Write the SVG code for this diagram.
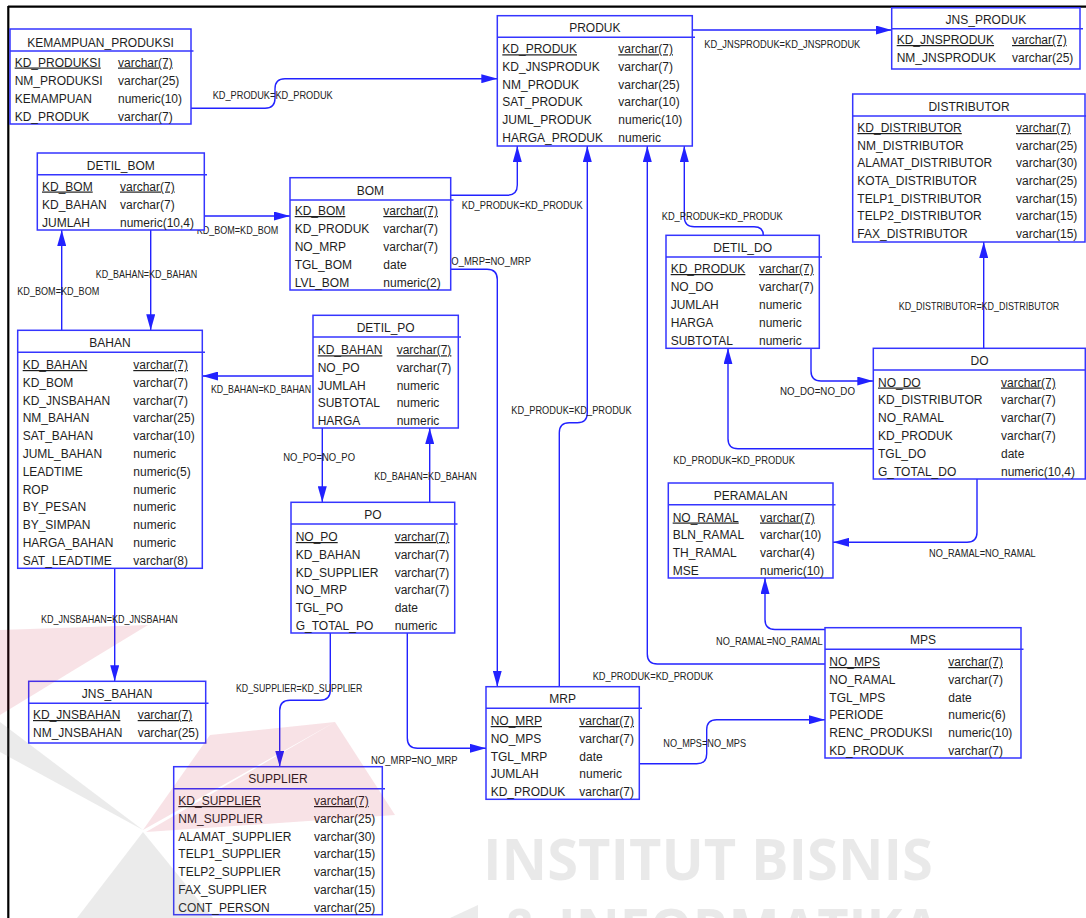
<svg xmlns="http://www.w3.org/2000/svg" width="1086" height="918" viewBox="0 0 1086 918">
  <defs>
    <style>
      .box { fill: #ffffff; stroke: #3535ff; stroke-width: 1.5; }
      .sep { stroke: #3535ff; stroke-width: 1.5; }
      .f { font-family: "Liberation Sans", Arial, sans-serif; font-size: 12px; fill: #1e1e1e; }
      .ttl { font-family: "Liberation Sans", Arial, sans-serif; font-size: 12px; fill: #1e1e1e; text-anchor: middle; }
      .pk { text-decoration: underline; }
      .lbl { font-family: "Liberation Sans", Arial, sans-serif; font-size: 11px; fill: #222222; }
      .c { fill: none; stroke: #2222ff; stroke-width: 1.4; marker-end: url(#arr); }
      .frame { stroke: #000000; stroke-width: 2.2; }
      .wm { font-family: "Open Sans", "Liberation Sans", sans-serif; font-weight: bold; font-size: 58px; fill: #000000; fill-opacity: 0.085; }
    </style>
    <marker id="arr" viewBox="0 0 16 9" refX="16" refY="4.5" markerWidth="16" markerHeight="9" markerUnits="userSpaceOnUse" orient="auto">
      <path d="M0,0 L16,4.5 L0,9 Z" fill="#2222ff"/>
    </marker>
  </defs>

  <rect x="0" y="0" width="1086" height="918" fill="#ffffff"/>

  <!-- page frame -->
  <line class="frame" x1="8" y1="6.7" x2="1086" y2="6.7"/>
  <line class="frame" x1="8.3" y1="6" x2="8.3" y2="918"/>

  <!-- relationships -->
  <g id="connectors">
    <path class="c" d="M191,108.3 H265 Q275,108.3 275,98.3 V88.7 Q275,78.7 285,78.7 H497.3"/>
    <path class="c" d="M692.3,30 H891.7"/>
    <path class="c" d="M450.7,195.3 H507 Q517.3,195.3 517.3,185 V146"/>
    <path class="c" d="M204.3,216 H290"/>
    <path class="c" d="M150.7,230 V330.3"/>
    <path class="c" d="M61.7,330.3 V230"/>
    <path class="c" d="M450.7,269.3 H487 Q497.3,269.3 497.3,279.6 V686.7"/>
    <path class="c" d="M313,376 H202.3"/>
    <path class="c" d="M322.3,428 V502.3"/>
    <path class="c" d="M429.7,502.3 V428"/>
    <path class="c" d="M114.7,568.3 V681.3"/>
    <path class="c" d="M330.3,633 V690 Q330.3,700.3 320,700.3 H290 Q279.7,700.3 279.7,710.6 V766.7"/>
    <path class="c" d="M407.3,633 V738 Q407.3,748.3 417.6,748.3 H486"/>
    <path class="c" d="M559.3,686.7 V432.7 Q559.3,422.7 569.3,422.7 H577.3 Q587.3,422.7 587.3,412.7 V146"/>
    <path class="c" d="M825,664 H657.3 Q647.3,664 647.3,654 V146"/>
    <path class="c" d="M763.3,235.3 Q763.3,226.7 754,226.7 H694.3 Q684.3,226.7 684.3,216.7 V146"/>
    <path class="c" d="M811,348.3 V371 Q811,381 821,381 H873.3"/>
    <path class="c" d="M873.3,448.7 H738 Q728,448.7 728,438.7 V348.3"/>
    <path class="c" d="M983.7,348.3 V242"/>
    <path class="c" d="M977,479 V532.3 Q977,542.3 967,542.3 H833"/>
    <path class="c" d="M825,629.5 H775 Q765,629.5 765,619.5 V578"/>
    <path class="c" d="M639.3,763.7 H696.7 Q706.7,763.7 706.7,753.7 V729.7 Q706.7,719.7 716.7,719.7 H825"/>

    <text class="lbl" x="212.7" y="98.6" textLength="120" lengthAdjust="spacingAndGlyphs">KD_PRODUK=KD_PRODUK</text>
    <text class="lbl" x="704.3" y="47.6" textLength="156" lengthAdjust="spacingAndGlyphs">KD_JNSPRODUK=KD_JNSPRODUK</text>
    <text class="lbl" x="461.7" y="209.3" textLength="121" lengthAdjust="spacingAndGlyphs">KD_PRODUK=KD_PRODUK</text>
    <text class="lbl" x="196.7" y="233.6" textLength="81.6" lengthAdjust="spacingAndGlyphs">KD_BOM=KD_BOM</text>
    <text class="lbl" x="95.7" y="277.6" textLength="101.6" lengthAdjust="spacingAndGlyphs">KD_BAHAN=KD_BAHAN</text>
    <text class="lbl" x="17.3" y="295.3" textLength="82" lengthAdjust="spacingAndGlyphs">KD_BOM=KD_BOM</text>
    <text class="lbl" x="444.5" y="265.3" textLength="86.5" lengthAdjust="spacingAndGlyphs">NO_MRP=NO_MRP</text>
    <text class="lbl" x="211" y="393.3" textLength="100" lengthAdjust="spacingAndGlyphs">KD_BAHAN=KD_BAHAN</text>
    <text class="lbl" x="283.3" y="461.3" textLength="71.7" lengthAdjust="spacingAndGlyphs">NO_PO=NO_PO</text>
    <text class="lbl" x="374.3" y="480.3" textLength="102.4" lengthAdjust="spacingAndGlyphs">KD_BAHAN=KD_BAHAN</text>
    <text class="lbl" x="41" y="622.6" textLength="136.7" lengthAdjust="spacingAndGlyphs">KD_JNSBAHAN=KD_JNSBAHAN</text>
    <text class="lbl" x="236" y="692.3" textLength="126.3" lengthAdjust="spacingAndGlyphs">KD_SUPPLIER=KD_SUPPLIER</text>
    <text class="lbl" x="371" y="764.3" textLength="86.7" lengthAdjust="spacingAndGlyphs">NO_MRP=NO_MRP</text>
    <text class="lbl" x="511.3" y="414.3" textLength="120.4" lengthAdjust="spacingAndGlyphs">KD_PRODUK=KD_PRODUK</text>
    <text class="lbl" x="592.7" y="679.6" textLength="120.6" lengthAdjust="spacingAndGlyphs">KD_PRODUK=KD_PRODUK</text>
    <text class="lbl" x="661.7" y="219.6" textLength="121" lengthAdjust="spacingAndGlyphs">KD_PRODUK=KD_PRODUK</text>
    <text class="lbl" x="780" y="395.3" textLength="75" lengthAdjust="spacingAndGlyphs">NO_DO=NO_DO</text>
    <text class="lbl" x="673.3" y="463.6" textLength="121.7" lengthAdjust="spacingAndGlyphs">KD_PRODUK=KD_PRODUK</text>
    <text class="lbl" x="898.7" y="310.3" textLength="160.6" lengthAdjust="spacingAndGlyphs">KD_DISTRIBUTOR=KD_DISTRIBUTOR</text>
    <text class="lbl" x="929" y="556.6" textLength="106.7" lengthAdjust="spacingAndGlyphs">NO_RAMAL=NO_RAMAL</text>
    <text class="lbl" x="716" y="644.6" textLength="106.7" lengthAdjust="spacingAndGlyphs">NO_RAMAL=NO_RAMAL</text>
    <text class="lbl" x="663.3" y="746.6" textLength="82.7" lengthAdjust="spacingAndGlyphs">NO_MPS=NO_MPS</text>
  </g>

  <!-- tables -->
  <g id="kemampuan_produksi">
    <rect class="box" x="10" y="29" width="181" height="95"/>
    <line class="sep" x1="10" y1="51" x2="193.5" y2="51"/>
    <text class="ttl" x="100.5" y="46.5">KEMAMPUAN_PRODUKSI</text>
    <text class="f pk" x="14.7" y="66.5">KD_PRODUKSI</text><text class="f pk" x="118" y="66.5">varchar(7)</text>
    <text class="f" x="14.7" y="84.5">NM_PRODUKSI</text><text class="f" x="118" y="84.5">varchar(25)</text>
    <text class="f" x="14.7" y="102.5">KEMAMPUAN</text><text class="f" x="118" y="102.5">numeric(10)</text>
    <text class="f" x="14.7" y="120.5">KD_PRODUK</text><text class="f" x="118" y="120.5">varchar(7)</text>
  </g>

  <g id="produk">
    <rect class="box" x="497.3" y="15.7" width="195" height="130.3"/>
    <line class="sep" x1="497.3" y1="37.3" x2="695" y2="37.3"/>
    <text class="ttl" x="594.8" y="32.3">PRODUK</text>
    <text class="f pk" x="502.3" y="53.3">KD_PRODUK</text><text class="f pk" x="618.3" y="53.3">varchar(7)</text>
    <text class="f" x="502.3" y="71">KD_JNSPRODUK</text><text class="f" x="618.3" y="71">varchar(7)</text>
    <text class="f" x="502.3" y="88.7">NM_PRODUK</text><text class="f" x="618.3" y="88.7">varchar(25)</text>
    <text class="f" x="502.3" y="106.4">SAT_PRODUK</text><text class="f" x="618.3" y="106.4">varchar(10)</text>
    <text class="f" x="502.3" y="124.1">JUML_PRODUK</text><text class="f" x="618.3" y="124.1">numeric(10)</text>
    <text class="f" x="502.3" y="141.8">HARGA_PRODUK</text><text class="f" x="618.3" y="141.8">numeric</text>
  </g>

  <g id="jns_produk">
    <rect class="box" x="891.7" y="7.8" width="188.3" height="61.2"/>
    <line class="sep" x1="891.7" y1="28.7" x2="1083" y2="28.7"/>
    <text class="ttl" x="985.9" y="24.3">JNS_PRODUK</text>
    <text class="f pk" x="896.7" y="44">KD_JNSPRODUK</text><text class="f pk" x="1012" y="44">varchar(7)</text>
    <text class="f" x="896.7" y="62">NM_JNSPRODUK</text><text class="f" x="1012" y="62">varchar(25)</text>
  </g>

  <g id="distributor">
    <rect class="box" x="852.7" y="94" width="232.3" height="148"/>
    <line class="sep" x1="852.7" y1="116" x2="1086" y2="116"/>
    <text class="ttl" x="969" y="110.7">DISTRIBUTOR</text>
    <text class="f pk" x="857.3" y="132">KD_DISTRIBUTOR</text><text class="f pk" x="1016" y="132">varchar(7)</text>
    <text class="f" x="857.3" y="149.7">NM_DISTRIBUTOR</text><text class="f" x="1016" y="149.7">varchar(25)</text>
    <text class="f" x="857.3" y="167.3">ALAMAT_DISTRIBUTOR</text><text class="f" x="1016" y="167.3">varchar(30)</text>
    <text class="f" x="857.3" y="185">KOTA_DISTRIBUTOR</text><text class="f" x="1016" y="185">varchar(25)</text>
    <text class="f" x="857.3" y="202.7">TELP1_DISTRIBUTOR</text><text class="f" x="1016" y="202.7">varchar(15)</text>
    <text class="f" x="857.3" y="220.3">TELP2_DISTRIBUTOR</text><text class="f" x="1016" y="220.3">varchar(15)</text>
    <text class="f" x="857.3" y="238">FAX_DISTRIBUTOR</text><text class="f" x="1016" y="238">varchar(15)</text>
  </g>

  <g id="detil_bom">
    <rect class="box" x="37.3" y="153" width="167" height="77"/>
    <line class="sep" x1="37.3" y1="174.7" x2="207" y2="174.7"/>
    <text class="ttl" x="120.8" y="170">DETIL_BOM</text>
    <text class="f pk" x="42" y="190.5">KD_BOM</text><text class="f pk" x="120" y="190.5">varchar(7)</text>
    <text class="f" x="42" y="208.5">KD_BAHAN</text><text class="f" x="120" y="208.5">varchar(7)</text>
    <text class="f" x="42" y="226.5">JUMLAH</text><text class="f" x="120" y="226.5">numeric(10,4)</text>
  </g>

  <g id="bom">
    <rect class="box" x="290" y="177.7" width="160.7" height="112.3"/>
    <line class="sep" x1="290" y1="200" x2="453.5" y2="200"/>
    <text class="ttl" x="370.4" y="195">BOM</text>
    <text class="f pk" x="294.7" y="215">KD_BOM</text><text class="f pk" x="383.3" y="215">varchar(7)</text>
    <text class="f" x="294.7" y="233">KD_PRODUK</text><text class="f" x="383.3" y="233">varchar(7)</text>
    <text class="f" x="294.7" y="251">NO_MRP</text><text class="f" x="383.3" y="251">varchar(7)</text>
    <text class="f" x="294.7" y="269">TGL_BOM</text><text class="f" x="383.3" y="269">date</text>
    <text class="f" x="294.7" y="287">LVL_BOM</text><text class="f" x="383.3" y="287">numeric(2)</text>
  </g>

  <g id="detil_do">
    <rect class="box" x="666" y="235.3" width="153.3" height="113"/>
    <line class="sep" x1="666" y1="257" x2="822" y2="257"/>
    <text class="ttl" x="742.7" y="251.7">DETIL_DO</text>
    <text class="f pk" x="670.7" y="273">KD_PRODUK</text><text class="f pk" x="759" y="273">varchar(7)</text>
    <text class="f" x="670.7" y="291">NO_DO</text><text class="f" x="759" y="291">varchar(7)</text>
    <text class="f" x="670.7" y="309">JUMLAH</text><text class="f" x="759" y="309">numeric</text>
    <text class="f" x="670.7" y="327">HARGA</text><text class="f" x="759" y="327">numeric</text>
    <text class="f" x="670.7" y="345">SUBTOTAL</text><text class="f" x="759" y="345">numeric</text>
  </g>

  <g id="do">
    <rect class="box" x="873.3" y="348.3" width="212" height="130.7"/>
    <line class="sep" x1="873.3" y1="370" x2="1086" y2="370"/>
    <text class="ttl" x="979.5" y="365.3">DO</text>
    <text class="f pk" x="878" y="386.5">NO_DO</text><text class="f pk" x="1001" y="386.5">varchar(7)</text>
    <text class="f" x="878" y="404.3">KD_DISTRIBUTOR</text><text class="f" x="1001" y="404.3">varchar(7)</text>
    <text class="f" x="878" y="422.1">NO_RAMAL</text><text class="f" x="1001" y="422.1">varchar(7)</text>
    <text class="f" x="878" y="439.9">KD_PRODUK</text><text class="f" x="1001" y="439.9">varchar(7)</text>
    <text class="f" x="878" y="457.7">TGL_DO</text><text class="f" x="1001" y="457.7">date</text>
    <text class="f" x="878" y="475.5">G_TOTAL_DO</text><text class="f" x="1001" y="475.5">numeric(10,4)</text>
  </g>

  <g id="peramalan">
    <rect class="box" x="668.3" y="483" width="164.7" height="95"/>
    <line class="sep" x1="668.3" y1="504.7" x2="835.5" y2="504.7"/>
    <text class="ttl" x="750.7" y="500">PERAMALAN</text>
    <text class="f pk" x="672.7" y="521.5">NO_RAMAL</text><text class="f pk" x="760" y="521.5">varchar(7)</text>
    <text class="f" x="672.7" y="539.3">BLN_RAMAL</text><text class="f" x="760" y="539.3">varchar(10)</text>
    <text class="f" x="672.7" y="557.1">TH_RAMAL</text><text class="f" x="760" y="557.1">varchar(4)</text>
    <text class="f" x="672.7" y="574.9">MSE</text><text class="f" x="760" y="574.9">numeric(10)</text>
  </g>

  <g id="mps">
    <rect class="box" x="825" y="627.7" width="196" height="130.3"/>
    <line class="sep" x1="825" y1="649.3" x2="1023.5" y2="649.3"/>
    <text class="ttl" x="923" y="644.3">MPS</text>
    <text class="f pk" x="829.3" y="666">NO_MPS</text><text class="f pk" x="948.3" y="666">varchar(7)</text>
    <text class="f" x="829.3" y="683.8">NO_RAMAL</text><text class="f" x="948.3" y="683.8">varchar(7)</text>
    <text class="f" x="829.3" y="701.6">TGL_MPS</text><text class="f" x="948.3" y="701.6">date</text>
    <text class="f" x="829.3" y="719.4">PERIODE</text><text class="f" x="948.3" y="719.4">numeric(6)</text>
    <text class="f" x="829.3" y="737.2">RENC_PRODUKSI</text><text class="f" x="948.3" y="737.2">numeric(10)</text>
    <text class="f" x="829.3" y="755">KD_PRODUK</text><text class="f" x="948.3" y="755">varchar(7)</text>
  </g>

  <g id="mrp">
    <rect class="box" x="486" y="686.7" width="153.3" height="112.6"/>
    <line class="sep" x1="486" y1="708.3" x2="642" y2="708.3"/>
    <text class="ttl" x="562.7" y="702.7">MRP</text>
    <text class="f pk" x="490.7" y="725">NO_MRP</text><text class="f pk" x="579.3" y="725">varchar(7)</text>
    <text class="f" x="490.7" y="742.8">NO_MPS</text><text class="f" x="579.3" y="742.8">varchar(7)</text>
    <text class="f" x="490.7" y="760.5">TGL_MRP</text><text class="f" x="579.3" y="760.5">date</text>
    <text class="f" x="490.7" y="778.3">JUMLAH</text><text class="f" x="579.3" y="778.3">numeric</text>
    <text class="f" x="490.7" y="796">KD_PRODUK</text><text class="f" x="579.3" y="796">varchar(7)</text>
  </g>

  <g id="supplier">
    <rect class="box" x="173.7" y="766.7" width="208.6" height="148"/>
    <line class="sep" x1="173.7" y1="788.7" x2="385" y2="788.7"/>
    <text class="ttl" x="278" y="783.3">SUPPLIER</text>
    <text class="f pk" x="178.3" y="805">KD_SUPPLIER</text><text class="f pk" x="314" y="805">varchar(7)</text>
    <text class="f" x="178.3" y="822.8">NM_SUPPLIER</text><text class="f" x="314" y="822.8">varchar(25)</text>
    <text class="f" x="178.3" y="840.6">ALAMAT_SUPPLIER</text><text class="f" x="314" y="840.6">varchar(30)</text>
    <text class="f" x="178.3" y="858.4">TELP1_SUPPLIER</text><text class="f" x="314" y="858.4">varchar(15)</text>
    <text class="f" x="178.3" y="876.2">TELP2_SUPPLIER</text><text class="f" x="314" y="876.2">varchar(15)</text>
    <text class="f" x="178.3" y="894">FAX_SUPPLIER</text><text class="f" x="314" y="894">varchar(15)</text>
    <text class="f" x="178.3" y="911.8">CONT_PERSON</text><text class="f" x="314" y="911.8">varchar(25)</text>
  </g>

  <g id="jns_bahan">
    <rect class="box" x="28.7" y="681.3" width="177" height="61.7"/>
    <line class="sep" x1="28.7" y1="703.3" x2="208.5" y2="703.3"/>
    <text class="ttl" x="117.2" y="698.3">JNS_BAHAN</text>
    <text class="f pk" x="33" y="719">KD_JNSBAHAN</text><text class="f pk" x="137.7" y="719">varchar(7)</text>
    <text class="f" x="33" y="736.7">NM_JNSBAHAN</text><text class="f" x="137.7" y="736.7">varchar(25)</text>
  </g>

  <g id="bahan">
    <rect class="box" x="17.7" y="330.3" width="184.6" height="238"/>
    <line class="sep" x1="17.7" y1="352.3" x2="205" y2="352.3"/>
    <text class="ttl" x="110" y="347.3">BAHAN</text>
    <text class="f pk" x="22.7" y="369">KD_BAHAN</text><text class="f pk" x="133.3" y="369">varchar(7)</text>
    <text class="f" x="22.7" y="386.8">KD_BOM</text><text class="f" x="133.3" y="386.8">varchar(7)</text>
    <text class="f" x="22.7" y="404.6">KD_JNSBAHAN</text><text class="f" x="133.3" y="404.6">varchar(7)</text>
    <text class="f" x="22.7" y="422.4">NM_BAHAN</text><text class="f" x="133.3" y="422.4">varchar(25)</text>
    <text class="f" x="22.7" y="440.2">SAT_BAHAN</text><text class="f" x="133.3" y="440.2">varchar(10)</text>
    <text class="f" x="22.7" y="458">JUML_BAHAN</text><text class="f" x="133.3" y="458">numeric</text>
    <text class="f" x="22.7" y="475.8">LEADTIME</text><text class="f" x="133.3" y="475.8">numeric(5)</text>
    <text class="f" x="22.7" y="493.6">ROP</text><text class="f" x="133.3" y="493.6">numeric</text>
    <text class="f" x="22.7" y="511.4">BY_PESAN</text><text class="f" x="133.3" y="511.4">numeric</text>
    <text class="f" x="22.7" y="529.2">BY_SIMPAN</text><text class="f" x="133.3" y="529.2">numeric</text>
    <text class="f" x="22.7" y="547">HARGA_BAHAN</text><text class="f" x="133.3" y="547">numeric</text>
    <text class="f" x="22.7" y="564.8">SAT_LEADTIME</text><text class="f" x="133.3" y="564.8">varchar(8)</text>
  </g>

  <g id="detil_po">
    <rect class="box" x="313" y="315.3" width="145.3" height="112.7"/>
    <line class="sep" x1="313" y1="337" x2="461" y2="337"/>
    <text class="ttl" x="385.7" y="332.3">DETIL_PO</text>
    <text class="f pk" x="317.7" y="354.3">KD_BAHAN</text><text class="f pk" x="396.7" y="354.3">varchar(7)</text>
    <text class="f" x="317.7" y="371.9">NO_PO</text><text class="f" x="396.7" y="371.9">varchar(7)</text>
    <text class="f" x="317.7" y="389.5">JUMLAH</text><text class="f" x="396.7" y="389.5">numeric</text>
    <text class="f" x="317.7" y="407.1">SUBTOTAL</text><text class="f" x="396.7" y="407.1">numeric</text>
    <text class="f" x="317.7" y="424.7">HARGA</text><text class="f" x="396.7" y="424.7">numeric</text>
  </g>

  <g id="po">
    <rect class="box" x="291" y="502.3" width="163.7" height="130.7"/>
    <line class="sep" x1="291" y1="524" x2="457.5" y2="524"/>
    <text class="ttl" x="372.9" y="519.3">PO</text>
    <text class="f pk" x="295.7" y="541">NO_PO</text><text class="f pk" x="394.7" y="541">varchar(7)</text>
    <text class="f" x="295.7" y="558.8">KD_BAHAN</text><text class="f" x="394.7" y="558.8">varchar(7)</text>
    <text class="f" x="295.7" y="576.6">KD_SUPPLIER</text><text class="f" x="394.7" y="576.6">varchar(7)</text>
    <text class="f" x="295.7" y="594.4">NO_MRP</text><text class="f" x="394.7" y="594.4">varchar(7)</text>
    <text class="f" x="295.7" y="612.2">TGL_PO</text><text class="f" x="394.7" y="612.2">date</text>
    <text class="f" x="295.7" y="630">G_TOTAL_PO</text><text class="f" x="394.7" y="630">numeric</text>
  </g>

  <!-- faint institutional watermark stamped over the page -->
  <g id="watermark">
    <g fill="#c8102e" fill-opacity="0.12">
      <polygon points="148,625 0,630 0,715"/>
      <polygon points="335,722 210,735 143,830"/>
      <polygon points="335,722 395,815 146,832"/>
    </g>
    <g fill="#777777" fill-opacity="0.15">
      <polygon points="0,722 0,752 143,830"/>
      <polygon points="143,832 77,918 213,918"/>
      <polygon points="450,918 478,905 478,918"/>
    </g>
    <text class="wm" x="483" y="880" textLength="450" lengthAdjust="spacingAndGlyphs">INSTITUT BISNIS</text>
    <text class="wm" x="503" y="950" textLength="437" lengthAdjust="spacingAndGlyphs">&amp; INFORMATIKA</text>
  </g>
</svg>
